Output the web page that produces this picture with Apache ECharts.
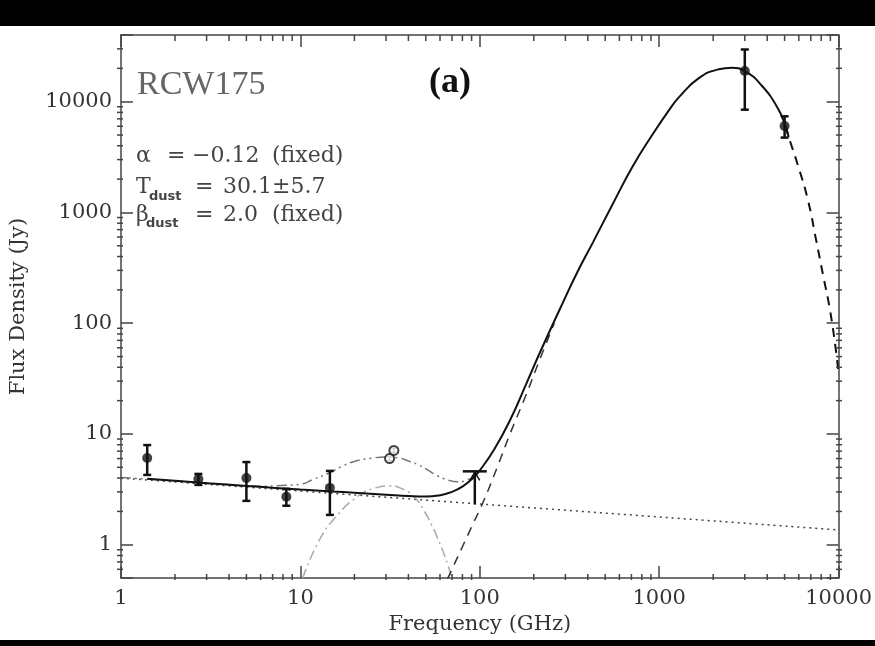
<!DOCTYPE html>
<html>
<head>
<meta charset="utf-8">
<title>RCW175 SED</title>
<script src="https://cdn.jsdelivr.net/npm/echarts@6/dist/echarts.min.js"></script>
<style>
html, body { margin: 0; padding: 0; background: #000; }
#chart { position: absolute; left: 0; top: 26px; width: 875px; height: 614px; background: #fff; }
</style>
</head>
<body>
<div id="chart"></div>
<script>
// detections (GHz, Jy)
var detFreq = [1.4, 2.7, 5.0, 8.35, 14.6, 3000, 5000];
var detFlux = [6.08, 3.93, 4.0, 2.71, 3.26, 18900, 6040];
var detLow  = [4.27, 3.47, 2.49, 2.25, 1.86, 8470, 4740];
var detHigh = [7.94, 4.36, 5.58, 3.2, 4.64, 29600, 7380];

// open symbols near 33 GHz
var openFreq = [31.4, 33.2];
var openFlux = [6.0, 7.1];
var openLow  = [5.75, 6.8];
var openHigh = [6.25, 7.45];

// limit at ~94 GHz
var limitFreq = [93.8];
var limitTop = [4.6];
var limitBottom = [2.31];

// total model (solid)
var totalFreq = [1.4, 2, 3, 5, 7, 10, 15, 20, 30, 40, 50, 60, 70, 80, 90, 100, 120, 148, 180, 217, 280, 350, 428, 552, 711, 918, 1135, 1290, 1663, 2144, 2540, 3000, 3725, 4600, 5050, 5270];
var totalFlux = [3.95, 3.78, 3.6, 3.4, 3.27, 3.15, 3.03, 2.95, 2.83, 2.75, 2.72, 2.8, 3.0, 3.35, 3.9, 4.7, 7.2, 13.5, 27.5, 55, 135, 290, 540, 1200, 2600, 5060, 8400, 11000, 16300, 19600, 20250, 18900, 14000, 8650, 6040, 4800];

// thermal dust (dashed), low and high frequency parts
var dustLowFreq = [66, 72, 80, 90, 105, 125, 148, 180, 217, 260];
var dustLowFlux = [0.49, 0.665, 0.96, 1.45, 2.48, 5.0, 10.2, 22, 48, 100];
var dustHighFreq = [5050, 5270, 5930, 6740, 7500, 8200, 8920, 9620, 10000];
var dustHighFlux = [6040, 4800, 2670, 1300, 560, 270, 136, 60, 35];

// free-free (dotted)
var ffFreq = [1, 10000];
var ffFlux = [4.0, 1.36];

// model with spinning dust (dash-dot-dot)
var spinTotFreq = [1, 3, 6, 8.3, 10.3, 11.6, 14.5, 17, 20, 25, 30, 35, 40, 45, 50, 58, 66, 75, 85, 97];
var spinTotFlux = [4.05, 3.62, 3.38, 3.45, 3.55, 3.85, 4.45, 5.1, 5.65, 6.05, 6.2, 6.1, 5.7, 5.3, 4.85, 4.2, 3.85, 3.7, 3.85, 4.5];

// spinning dust alone (light dash-dot)
var spinFreq = [10.3, 12.7, 15.6, 21, 26, 31, 38, 44, 49, 54, 58, 64, 70];
var spinFlux = [0.5, 1.09, 1.75, 2.76, 3.25, 3.4, 3.13, 2.6, 2.02, 1.5, 1.16, 0.78, 0.5];

// minor tick values
var xMinor = [2, 3, 4, 5, 6, 7, 8, 9, 20, 30, 40, 50, 60, 70, 80, 90, 200, 300, 400, 500, 600, 700, 800, 900, 2000, 3000, 4000, 5000, 6000, 7000, 8000, 9000];
var yMinor = [0.6, 0.7, 0.8, 0.9, 2, 3, 4, 5, 6, 7, 8, 9, 20, 30, 40, 50, 60, 70, 80, 90, 200, 300, 400, 500, 600, 700, 800, 900, 2000, 3000, 4000, 5000, 6000, 7000, 8000, 9000, 20000, 30000];

var xMin = 1, xMax = 10000, yMin = 0.5, yMax = 40000;

// plot frame
var gridLeft = 117, gridTop = 9, gridWidth = 725, gridHeight = 545;

var serif = '"DejaVu Serif", serif';
var axisColor = '#444';
var textColor = '#333';
var minorLen = 6;

function pairs(xs, ys) {
	var out = [];
	for (var i = 0; i < xs.length; i++) out.push([xs[i], ys[i]]);
	return out;
}
function triples(xs, a, b) {
	var out = [];
	for (var i = 0; i < xs.length; i++) out.push([xs[i], a[i], b[i]]);
	return out;
}

function powerLabel(v) {
	var l = Math.log(v) / Math.LN10;
	if (Math.abs(l - Math.round(l)) > 1e-6) return '';
	return String(Math.round(Math.pow(10, Math.round(l))));
}

function logAxis(min, max, position, withLabels) {
	return {
		type: 'log',
		logBase: 10,
		min: min,
		max: max,
		position: position,
		axisLine: { show: true, lineStyle: { color: axisColor, width: 1.5 } },
		axisTick: { show: true, inside: true, length: 12, lineStyle: { color: axisColor, width: 1.5 } },
		axisLabel: {
			show: withLabels,
			fontFamily: serif,
			fontSize: 21,
			color: textColor,
			margin: position === 'bottom' ? 10 : 9,
			formatter: powerLabel
		},
		splitLine: { show: false }
	};
}

// 次刻度: 位置由坐标轴换算, 画在上下/左右两条边框内侧
function renderXMinor(params, api) {
	var x = api.coord([api.value(0), api.value(1)])[0];
	var bottom = gridTop + gridHeight;
	return {
		type: 'group',
		children: [
			{ type: 'line', shape: { x1: x, y1: bottom, x2: x, y2: bottom - minorLen }, style: { stroke: axisColor, lineWidth: 1.5 } },
			{ type: 'line', shape: { x1: x, y1: gridTop, x2: x, y2: gridTop + minorLen }, style: { stroke: axisColor, lineWidth: 1.5 } }
		]
	};
}
function renderYMinor(params, api) {
	var y = api.coord([api.value(0), api.value(1)])[1];
	var right = gridLeft + gridWidth;
	return {
		type: 'group',
		children: [
			{ type: 'line', shape: { x1: gridLeft, y1: y, x2: gridLeft + minorLen, y2: y }, style: { stroke: axisColor, lineWidth: 1.5 } },
			{ type: 'line', shape: { x1: right, y1: y, x2: right - minorLen, y2: y }, style: { stroke: axisColor, lineWidth: 1.5 } }
		]
	};
}

function errorBarRenderer(color, width, cap) {
	return function(params, api) {
		var x = api.value(0);
		var lo = api.coord([x, api.value(1)]);
		var hi = api.coord([x, api.value(2)]);
		var style = { stroke: color, lineWidth: width };
		return {
			type: 'group',
			children: [
				{ type: 'line', shape: { x1: lo[0], y1: lo[1], x2: hi[0], y2: hi[1] }, style: style },
				{ type: 'line', shape: { x1: hi[0] - cap, y1: hi[1], x2: hi[0] + cap, y2: hi[1] }, style: style },
				{ type: 'line', shape: { x1: lo[0] - cap, y1: lo[1], x2: lo[0] + cap, y2: lo[1] }, style: style }
			]
		};
	};
}

function renderLimit(params, api) {
	var x = api.value(0);
	var top = api.coord([x, api.value(1)]);
	var bot = api.coord([x, api.value(2)]);
	var style = { stroke: '#111', lineWidth: 2.5 };
	return {
		type: 'group',
		children: [
			{ type: 'line', shape: { x1: top[0] - 12, y1: top[1], x2: top[0] + 12, y2: top[1] }, style: style },
			{ type: 'line', shape: { x1: top[0], y1: top[1], x2: bot[0], y2: bot[1] }, style: style },
			{ type: 'polyline', shape: { points: [[top[0] - 5, top[1] + 9], [top[0], top[1] + 1], [top[0] + 5, top[1] + 9]] }, style: { stroke: '#111', lineWidth: 1.5, fill: null } }
		]
	};
}

function txt(text, x, y, font, color, align) {
	return {
		type: 'text',
		x: x,
		y: y,
		silent: true,
		style: {
			text: text,
			font: font,
			fill: color,
			align: align || 'left',
			textAlign: align || 'left',
			verticalAlign: 'middle',
			textVerticalAlign: 'middle'
		}
	};
}

function line(name, data, color, width, type, z) {
	return {
		name: name,
		type: 'line',
		data: data,
		smooth: 0.5,
		symbol: 'none',
		clip: true,
		z: z,
		lineStyle: { color: color, width: width, type: type }
	};
}

var chart = echarts.init(document.getElementById('chart'));
var paramFont = '22px "DejaVu Serif"';
var subFont = 'bold 13px "DejaVu Sans"';
var paramColor = '#444';

var option = {
	animation: false,
	backgroundColor: '#fff',
	grid: { left: gridLeft, top: gridTop, width: gridWidth, height: gridHeight },
	xAxis: [
		Object.assign(logAxis(xMin, xMax, 'bottom', true), {
			name: 'Frequency (GHz)',
			nameLocation: 'middle',
			nameGap: 33,
			nameTextStyle: { fontFamily: serif, fontSize: 21, color: textColor }
		}),
		logAxis(xMin, xMax, 'top', false)
	],
	yAxis: [
		Object.assign(logAxis(yMin, yMax, 'left', true), {
			name: 'Flux Density (Jy)',
			nameLocation: 'middle',
			nameGap: 92,
			nameTextStyle: { fontFamily: serif, fontSize: 21, color: textColor }
		}),
		logAxis(yMin, yMax, 'right', false)
	],
	graphic: [
		txt('RCW175', 137, 59, '34px "Liberation Serif"', '#666', 'left'),
		txt('(a)', 450, 57, 'bold 36px "Liberation Serif"', '#111', 'center'),
		txt('\u03b1', 136, 130, paramFont, paramColor),
		txt('=', 167, 130, paramFont, paramColor),
		txt('\u22120.12', 192, 130, paramFont, paramColor),
		txt('(fixed)', 272, 130, paramFont, paramColor),
		txt('T', 136, 161, paramFont, paramColor),
		txt('dust', 149, 171, subFont, paramColor),
		txt('=', 195, 161, paramFont, paramColor),
		txt('30.1\u00b15.7', 223, 161, paramFont, paramColor),
		txt('\u03b2', 136, 189, paramFont, paramColor),
		txt('dust', 146, 198, subFont, paramColor),
		txt('=', 195, 189, paramFont, paramColor),
		txt('2.0', 223, 189, paramFont, paramColor),
		txt('(fixed)', 272, 189, paramFont, paramColor)
	],
	series: [
		line('free-free', pairs(ffFreq, ffFlux), '#444', 1.5, [2, 4], 2),
		line('spinning dust', pairs(spinFreq, spinFlux), '#aaa', 1.5, [10, 4, 2, 4], 2),
		line('with spinning dust', pairs(spinTotFreq, spinTotFlux), '#777', 1.5, [10, 4, 2, 4, 2, 4], 2),
		line('thermal dust', pairs(dustLowFreq, dustLowFlux), '#333', 1.5, [9, 7], 3),
		line('thermal dust tail', pairs(dustHighFreq, dustHighFlux), '#111', 2, [9, 7], 3),
		line('total', pairs(totalFreq, totalFlux), '#111', 2, 'solid', 4),
		{
			name: 'errors',
			type: 'custom',
			renderItem: errorBarRenderer('#111', 2.5, 4),
			data: triples(detFreq, detLow, detHigh),
			z: 5
		},
		{
			name: 'open errors',
			type: 'custom',
			renderItem: errorBarRenderer('#222', 1.5, 3),
			data: triples(openFreq, openLow, openHigh),
			z: 5
		},
		{
			name: 'limit',
			type: 'custom',
			renderItem: renderLimit,
			data: triples(limitFreq, limitTop, limitBottom),
			z: 5
		},
		{
			name: 'x minor ticks',
			type: 'custom',
			renderItem: renderXMinor,
			data: pairs(xMinor, xMinor.map(function() { return 10; })),
			z: 5
		},
		{
			name: 'y minor ticks',
			type: 'custom',
			renderItem: renderYMinor,
			data: pairs(yMinor.map(function() { return 10; }), yMinor),
			z: 5
		},
		{
			name: 'detections',
			type: 'scatter',
			symbol: 'circle',
			symbolSize: 10,
			itemStyle: { color: '#111' },
			data: pairs(detFreq, detFlux),
			z: 6
		},
		{
			name: 'open',
			type: 'scatter',
			symbol: 'emptyCircle',
			symbolSize: 9,
			itemStyle: { color: '#111', borderWidth: 2 },
			data: pairs(openFreq, openFlux),
			z: 6
		}
	]
};
chart.setOption(option);
</script>
</body>
</html>
